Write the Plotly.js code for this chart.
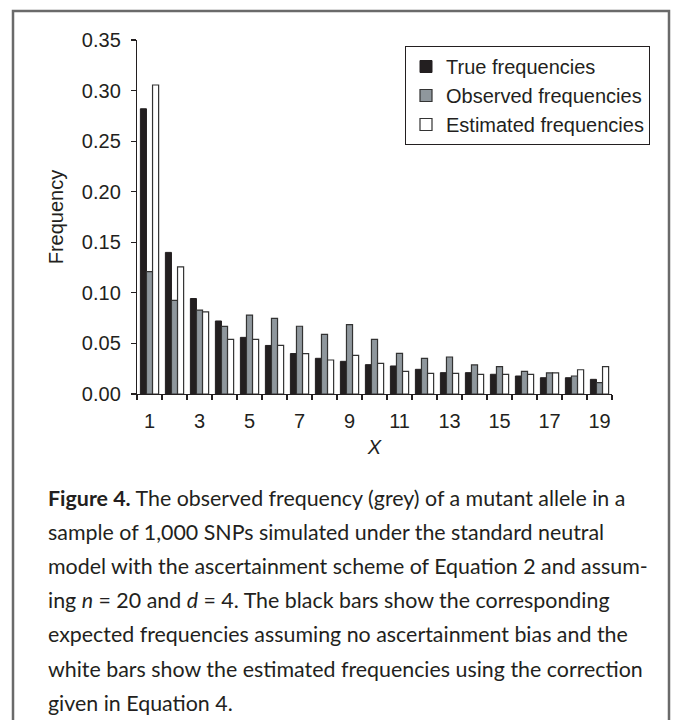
<!DOCTYPE html>
<html>
<head>
<meta charset="utf-8">
<script src="https://cdn.plot.ly/plotly-3.0.1.min.js"></script>
<style>
  html, body { margin: 0; padding: 0; background: #fff; }
  #chart { width: 673px; height: 720px; }
</style>
</head>
<body>
<div id="chart"></div>
<script>
// ---- data ----
const categories = [1, 2, 3, 4, 5, 6, 7, 8, 9, 10, 11, 12, 13, 14, 15, 16, 17, 18, 19];
const tickLabels = ["1", "3", "5", "7", "9", "11", "13", "15", "17", "19"];
const tickPositions = [1, 3, 5, 7, 9, 11, 13, 15, 17, 19];
const trueFreq = [0.282, 0.140, 0.0944, 0.0722, 0.056, 0.048, 0.040, 0.0353, 0.0323, 0.029,
                  0.0277, 0.0244, 0.0211, 0.0211, 0.0195, 0.0178, 0.0161, 0.0161, 0.0145];
const obsFreq = [0.121, 0.0925, 0.083, 0.0668, 0.078, 0.0748, 0.067, 0.059, 0.0685, 0.054,
                 0.0402, 0.0353, 0.0366, 0.0287, 0.027, 0.0224, 0.0208, 0.0178, 0.0112];
const estFreq = [0.3055, 0.1257, 0.0812, 0.054, 0.054, 0.048, 0.040, 0.0336, 0.0382, 0.0303,
                 0.0224, 0.0204, 0.0204, 0.0195, 0.0195, 0.0195, 0.0208, 0.024, 0.027];
const seriesNames = ["True frequencies", "Observed frequencies", "Estimated frequencies"];
const captionLines = [
  "<b>Figure 4.</b> The observed frequency (grey) of a mutant allele in a",
  "sample of 1,000 SNPs simulated under the standard neutral",
  "model with the ascertainment scheme of Equation 2 and assum-",
  "ing <i>n</i> = 20 and <i>d</i> = 4. The black bars show the corresponding",
  "expected frequencies assuming no ascertainment bias and the",
  "white bars show the estimated frequencies using the correction",
  "given in Equation 4."
];

// ---- geometry of the plot area (pixels) ----
const W = 673, H = 720;
const plotL = 137, plotR = 612, plotT = 40, plotB = 394;
const px2x = p => (p - plotL) / (plotR - plotL);
const px2y = p => (plotB - p) / (plotB - plotT);

const chartFont = "Liberation Sans, Arial, sans-serif";
const capFont = "Lato, 'Open Sans', sans-serif";
const ink = "#231f20";

const traces = [
  { type: "bar", name: seriesNames[0], x: categories, y: trueFreq,
    marker: { color: ink, line: { color: ink, width: 1 } } },
  { type: "bar", name: seriesNames[1], x: categories, y: obsFreq,
    marker: { color: "#8f979d", line: { color: "#333333", width: 1.2 } } },
  { type: "bar", name: seriesNames[2], x: categories, y: estFreq,
    marker: { color: "#ffffff", line: { color: "#333333", width: 1.2 } } }
];

const annotations = captionLines.map((t, i) => ({
  text: t, xref: "paper", yref: "paper",
  x: px2x(46), y: px2y(498 + i * 34.1),
  xanchor: "left", yanchor: "middle", showarrow: false, align: "left",
  font: { family: capFont, size: 21.4, color: ink }
}));

const layout = {
  width: W, height: H,
  margin: { l: plotL, r: W - plotR, t: plotT, b: H - plotB, pad: 0 },
  paper_bgcolor: "#ffffff", plot_bgcolor: "#ffffff",
  font: { family: chartFont, color: ink, size: 20 },
  barmode: "group", bargap: 0.27, bargroupgap: 0,
  showlegend: true,
  legend: {
    x: px2x(650), y: px2y(46), xanchor: "right", yanchor: "top",
    bordercolor: ink, borderwidth: 1, bgcolor: "#ffffff",
    font: { family: chartFont, size: 20, color: ink },
    tracegroupgap: 0, itemwidth: 30
  },
  xaxis: {
    range: [0.5, 19.5], tickmode: "array", tickvals: tickPositions, ticktext: tickLabels,
    ticks: "", showgrid: false, zeroline: false,
    showline: true, linecolor: ink, linewidth: 1.2,
    tickfont: { family: chartFont, size: 20, color: ink },
    ticklabelstandoff: 9,
    minor: { tickmode: "linear", tick0: 0.5, dtick: 1, ticks: "outside", ticklen: 5,
             tickwidth: 1.2, tickcolor: ink, showgrid: false },
    title: { text: "<i>X</i>", font: { family: chartFont, size: 20, color: ink }, standoff: 8 },
    fixedrange: true
  },
  yaxis: {
    range: [0, 0.35], dtick: 0.05, tick0: 0, tickformat: ".2f",
    ticks: "outside", ticklen: 5, tickwidth: 1.2, tickcolor: ink,
    showgrid: false, zeroline: false,
    showline: true, linecolor: ink, linewidth: 1.2,
    tickfont: { family: chartFont, size: 20, color: ink },
    ticklabelstandoff: 6,
    title: { text: "Frequency", font: { family: chartFont, size: 20, color: ink }, standoff: 12 },
    fixedrange: true
  },
  shapes: [
    { type: "rect", xref: "paper", yref: "paper",
      x0: px2x(13), x1: px2x(669), y0: px2y(740), y1: px2y(11),
      line: { color: "#6a6a6a", width: 2.5 }, fillcolor: "rgba(0,0,0,0)", layer: "below" }
  ],
  annotations: annotations
};

Plotly.newPlot("chart", traces, layout, { displayModeBar: false, staticPlot: true });
</script>
</body>
</html>
